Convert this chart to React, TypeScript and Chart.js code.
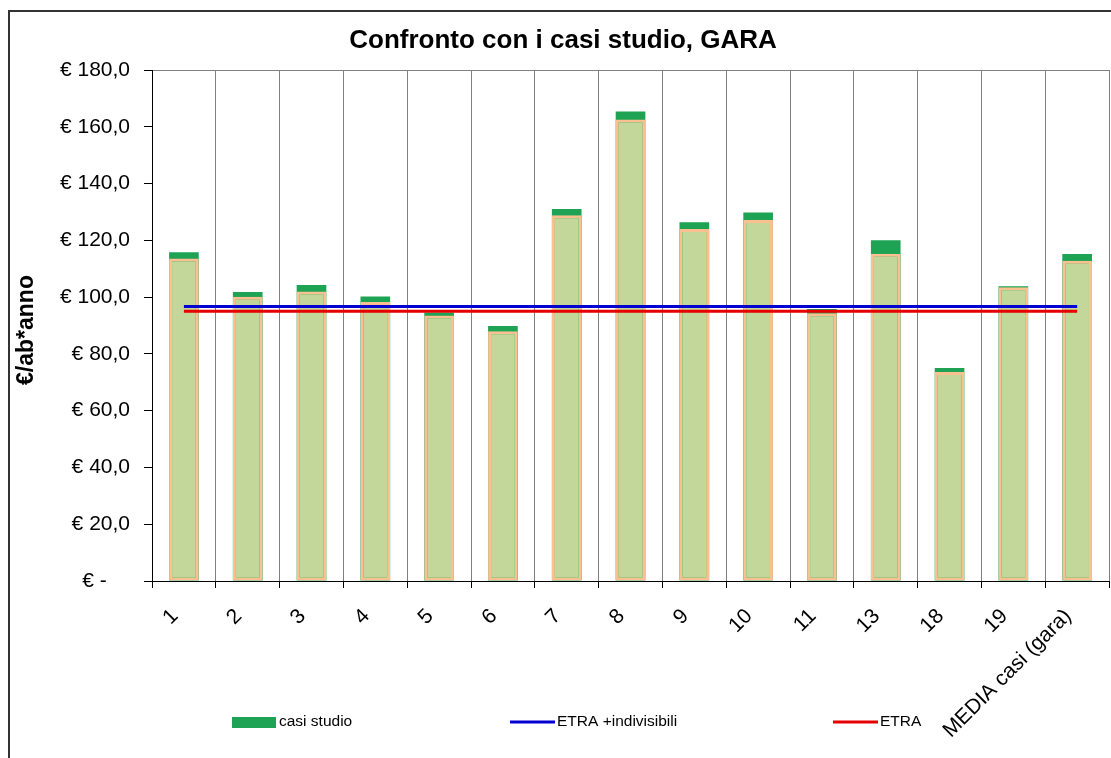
import React, { useEffect, useRef } from "react";
import { Chart, registerables } from "chart.js";

Chart.register(...registerables);

const categories = ["1", "2", "3", "4", "5", "6", "7", "8", "9", "10", "11", "13", "18", "19", "MEDIA casi (gara)"];
// total value (green top = "casi studio")
const casiStudio = [115.8, 101.8, 104.3, 100.2, 94.6, 89.8, 131.0, 165.4, 126.4, 129.8, 95.8, 120.0, 75.0, 103.8, 115.2];
// light base portion of each bar
const baseValues = [113.6, 100.1, 102.0, 98.3, 93.5, 88.0, 128.8, 162.6, 124.0, 127.2, 94.3, 115.3, 73.6, 103.5, 112.8];
const etraIndivisibili = [96.7, 96.7, 96.7, 96.7, 96.7, 96.7, 96.7, 96.7, 96.7, 96.7, 96.7, 96.7, 96.7, 96.7, 96.7];
const etra = [95.0, 95.0, 95.0, 95.0, 95.0, 95.0, 95.0, 95.0, 95.0, 95.0, 95.0, 95.0, 95.0, 95.0, 95.0];
const yTicks = [0, 20, 40, 60, 80, 100, 120, 140, 160, 180];

const TITLE = "Confronto con i casi studio, GARA";
const Y_TITLE = "€/ab*anno";
const FONT = "'Liberation Sans', Arial, sans-serif";

const GREEN = "#1ea355";
const LIGHT = "#c4d79b";
const PEACH = "#fac090";
const BLUE = "#0000d0";
const RED = "#e60000";

const decorPlugin = {
  id: "decor",
  afterDraw(chart: any) {
    const ctx = chart.ctx;
    ctx.save();
    ctx.fillStyle = "#000";
    // title
    ctx.font = `bold 26px ${FONT}`;
    ctx.textAlign = "center";
    ctx.textBaseline = "middle";
    ctx.fillText(TITLE, 563, 41);
    // y title
    ctx.save();
    ctx.translate(27, 330);
    ctx.rotate(-Math.PI / 2);
    ctx.font = `bold 23px ${FONT}`;
    ctx.fillText(Y_TITLE, 0, 0);
    ctx.restore();
    // legend
    const ds = chart.data.datasets;
    const items = [
      { d: ds[3], x: 232, kind: "box" },
      { d: ds[0], x: 510, kind: "line" },
      { d: ds[1], x: 833, kind: "line" },
    ];
    const yc = 722;
    ctx.font = `15.5px ${FONT}`;
    ctx.textAlign = "left";
    ctx.textBaseline = "middle";
    items.forEach((it) => {
      if (it.kind === "box") {
        ctx.fillStyle = it.d.backgroundColor;
        ctx.fillRect(it.x, yc - 5, 44, 11);
      } else {
        ctx.strokeStyle = it.d.borderColor;
        ctx.lineWidth = 3;
        ctx.beginPath();
        ctx.moveTo(it.x, yc);
        ctx.lineTo(it.x + 45, yc);
        ctx.stroke();
      }
      ctx.fillStyle = "#000";
      ctx.fillText(it.d.label, it.x + 47, yc);
    });
    ctx.restore();
  },
};

export default function App() {
  const ref = useRef<HTMLCanvasElement>(null);
  useEffect(() => {
    if (!ref.current) return;
    Chart.defaults.font.family = FONT;
    const chart = new Chart(ref.current, {
      type: "bar",
      data: {
        labels: categories,
        datasets: [
          {
            type: "line",
            label: "ETRA +indivisibili",
            data: etraIndivisibili,
            borderColor: BLUE,
            backgroundColor: BLUE,
            borderWidth: 3,
            pointRadius: 0,
            order: 0,
          } as any,
          {
            type: "line",
            label: "ETRA",
            data: etra,
            borderColor: RED,
            backgroundColor: RED,
            borderWidth: 3,
            pointRadius: 0,
            order: 0,
          } as any,
          {
            type: "bar",
            label: "base",
            data: baseValues,
            backgroundColor: LIGHT,
            borderColor: PEACH,
            borderWidth: 3,
            borderSkipped: false,
            inflateAmount: 0,
            barPercentage: 0.465,
            categoryPercentage: 1,
            order: 1,
          },
          {
            type: "bar",
            label: "casi studio",
            data: casiStudio,
            backgroundColor: GREEN,
            borderWidth: 0,
            barPercentage: 0.465,
            categoryPercentage: 1,
            order: 2,
          },
        ],
      },
      options: {
        responsive: false,
        animation: false,
        devicePixelRatio: 1,
        layout: { padding: { top: 70, right: 1, left: 0, bottom: 0 } },
        plugins: {
          legend: { display: false },
          title: { display: false },
          tooltip: { enabled: false },
        },
        scales: {
          x: {
            stacked: true,
            offset: true,
            grid: {
              offset: true,
              display: true,
              drawOnChartArea: true,
              color: (c: any) => (c.index === 0 ? "rgba(0,0,0,0)" : "#808080"),
              tickColor: "#000",
              tickLength: 7,
              lineWidth: 1,
            },
            border: { display: true, color: "#000", width: 1 },
            ticks: {
              autoSkip: false,
              minRotation: 45,
              maxRotation: 45,
              padding: 16,
              labelOffset: -9,
              color: "#000",
              font: { size: 21, family: FONT },
            },
            afterFit: (s: any) => {
              s.height = 177;
            },
          },
          y: {
            stacked: false,
            min: 0,
            max: 180,
            afterBuildTicks: (s: any) => {
              s.ticks = yTicks.map((v) => ({ value: v }));
            },
            grid: {
              drawOnChartArea: true,
              color: (c: any) => (c.tick && c.tick.value === 180 ? "#808080" : "rgba(0,0,0,0)"),
              tickColor: "#000",
              tickLength: 8,
            },
            border: { display: true, color: "#000", width: 1 },
            ticks: {
              padding: 14,
              color: "#000",
              font: { size: 21, family: FONT },
              callback: (v: any) => (Number(v) === 0 ? "€ -    " : "€ " + Number(v).toFixed(1).replace(".", ",")),
            },
            afterFit: (s: any) => {
              s.width = 152;
            },
          },
        },
      },
      plugins: [decorPlugin],
    });
    return () => chart.destroy();
  }, []);

  return (
    <div style={{ position: "fixed", left: 0, top: 0, width: 1111, height: 758, overflow: "hidden", background: "#fff" }}>
      <div
        style={{
          position: "absolute",
          left: 8,
          top: 10,
          width: 1200,
          height: 800,
          borderLeft: "2px solid #333",
          borderTop: "2px solid #333",
        }}
      />
      <canvas ref={ref} width={1111} height={758} style={{ position: "absolute", left: 0, top: 0 }} />
    </div>
  );
}
